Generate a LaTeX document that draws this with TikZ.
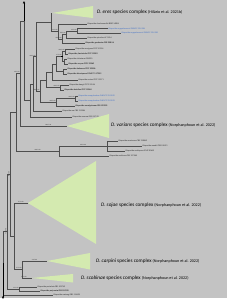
\documentclass[tikz,border=0pt]{standalone}
\usepackage{fontspec}
\setmainfont{Carlito}
\usepackage{tikz}
\usetikzlibrary{arrows.meta}
\definecolor{treebg}{RGB}{195,195,195}
\definecolor{cladegreen}{RGB}{212,234,176}
\definecolor{isoblue}{RGB}{62,110,200}
\definecolor{branchgray}{RGB}{78,78,78}
\newcommand{\citefont}{\fontsize{4.1}{4.8}\selectfont}

\begin{document}
\begin{tikzpicture}[x=1pt, y=-1pt, branch/.style={draw=branchgray, line width=0.35pt}, leaf/.style={anchor=west, inner sep=0.4pt, font=\fontsize{2.1}{2.5}\selectfont, text=black!85}, typeleaf/.style={leaf, font=\fontsize{2.1}{2.5}\selectfont\bfseries}, newleaf/.style={leaf, text=isoblue}, clade/.style={fill=cladegreen}, cladelabel/.style={anchor=west, inner sep=0pt, font=\fontsize{5.2}{6}\selectfont}, supp/.style={anchor=south east, inner sep=0.3pt, font=\fontsize{1.6}{1.9}\selectfont, text=black!80}, cut/.style={branch, draw=black, -{Triangle[width=2.4pt,length=2.2pt]}}]
\fill[white] (0,0) rectangle (227,300);
\fill[treebg] (0,0) rectangle (227,297.5);
\useasboundingbox (0,0) rectangle (227,300);

% collapsed complexes
\coordinate (eres) at (52,13);
\fill[clade] (eres) -- (93,6) -- (93,18) -- cycle;
\node[cladelabel] (eresl) at (97,12.5) {\textit{D. eres} species complex {\citefont (Hilário et al. 2021b)}};
\coordinate (varians) at (67,126);
\fill[clade] (varians) -- (109,114) -- (109,138) -- cycle;
\node[cladelabel] (variansl) at (111,125.5) {\textit{D. varians} species complex {\citefont (Norphanphoun et al. 2022)}};
\coordinate (sojae) at (28,203);
\fill[clade] (sojae) -- (96,161) -- (96,244) -- cycle;
\node[cladelabel] (sojael) at (101,205) {\textit{D. sojae} species complex {\citefont (Norphanphoun et al. 2022)}};
\coordinate (carpini) at (47,261);
\fill[clade] (carpini) -- (90,253) -- (90,269.5) -- cycle;
\node[cladelabel] (carpinil) at (96,261.5) {\textit{D. carpini} species complex {\citefont (Norphanphoun et al. 2022)}};
\coordinate (scobinae) at (32,278);
\fill[clade] (scobinae) -- (73,274) -- (73,282.5) -- cycle;
\node[cladelabel] (scobinael) at (81,278) {\textit{D. scobinae} species complex {\citefont (Norphanphoun et al. 2022)}};

% leaves
\node[leaf] (a1) at (87,24) {\textit{Diaporthe charlesworthii} BRIP 54884};
\node[newleaf] (a2) at (108,28.5) {\textit{Diaporthe angophorensis} ZHKUCC 22-0184};
\node[newleaf] (a3) at (121,33) {\textit{Diaporthe angophorensis} ZHKUCC 22-0185};
\node[leaf] (a4) at (87,38) {\textit{Diaporthe spiculosa} LC 2416};
\node[typeleaf] (a5) at (85,43) {\textit{Diaporthe gardeniae} CBS 288.56};
\node[leaf] (b1) at (75,49) {\textit{Diaporthe acerigena} CFCC 52554};
\node[typeleaf] (b2) at (68,54) {\textit{Diaporthe fraxinicola} CFCC 52582};
\node[leaf] (b3) at (67,59) {\textit{Diaporthe citriasiana} ZJUD30};
\node[typeleaf] (b4) at (68,64) {\textit{Diaporthe caryae} CFCC 52563};
\node[typeleaf] (b5) at (67,69) {\textit{Diaporthe kadsurae} CFCC 52586};
\node[typeleaf] (b6) at (67,74) {\textit{Diaporthe biconispora} CGMCC 3.17252};
\node[leaf] (b7) at (78,80) {\textit{Diaporthe conica} CFCC 52571};
\node[leaf] (b8) at (69,85) {\textit{Diaporthe alangii} CFCC 52556};
\node[typeleaf] (b9) at (64,90) {\textit{Diaporthe betulina} CFCC 52560};
\node[newleaf] (b10) at (78,96) {\textit{Diaporthe campylandrae} ZHKUCC 22-0182};
\node[newleaf] (b11) at (78,101) {\textit{Diaporthe campylandrae} ZHKUCC 22-0183};
\node[typeleaf] (b12) at (75,106) {\textit{Diaporthe eucalyptorum} CBS 132525};
\node[leaf] (b13) at (62,111) {\textit{Diaporthe oxe} CBS 133186};
\node[leaf] (b14) at (72,117) {\textit{Diaporthe nomurai} CBS 157.29};
\node[leaf] (h1) at (118,141) {\textit{Diaporthe acaciarum} CBS 138862};
\node[leaf] (h2) at (142,146) {\textit{Diaporthe woodii} CBS 558.93};
\node[leaf] (h3) at (125,151) {\textit{Diaporthe ovalispora} ICMP 20659};
\node[leaf] (h4) at (109,156) {\textit{Diaporthe caulivora} CBS 127268};
\node[leaf] (z1) at (37,287) {\textit{Diaporthe pustulata} CBS 109742};
\node[typeleaf] (z2) at (40,291) {\textit{Diaporthe perjuncta} CBS 109745};
\node[leaf] (z3) at (53,295) {\textit{Diaporthe crataegi} CBS 114435};

% internal nodes
\coordinate (n3) at (77,30.7);
\coordinate (n2) at (66,34.4);
\coordinate (n4) at (62,38.7);
\coordinate (n1) at (58,31.3);
\coordinate (n0) at (51,22.2);
\coordinate (c1) at (65,51.5);
\coordinate (c2) at (64.5,61.5);
\coordinate (c3) at (62,56.5);
\coordinate (c4) at (63,71.5);
\coordinate (c5) at (56,64);
\coordinate (c6) at (52,72);
\coordinate (c7) at (60,87.5);
\coordinate (c8) at (46,79.8);
\coordinate (d1) at (75,98.5);
\coordinate (d2) at (56,102.3);
\coordinate (d3) at (40,91);
\coordinate (n6) at (36,56.6);
\coordinate (d4) at (33,83.8);
\coordinate (d5) at (30,100.4);
\coordinate (t1) at (24,21);
\coordinate (t1top) at (24,1.2);
\coordinate (t0) at (20,73.5);
\coordinate (g1) at (107,146);
\coordinate (g2) at (59,151);
\coordinate (q1) at (16,112.3);
\coordinate (dd) at (22,269.5);
\coordinate (p) at (14,236.3);
\coordinate (q2) at (10,174.3);
\coordinate (zc) at (19,289);
\coordinate (a0) at (7,231.6);
\coordinate (r0) at (3,263.3);
\coordinate (rootend) at (3,298.8);

% branches
\draw[branch] (n3) |- (a2.west) (n3) |- (a3.west);
\draw[branch] (n2) |- (n3) (n2) |- (a4.west);
\draw[branch] (n4) |- (n2) (n4) |- (a5.west);
\draw[branch] (n1) |- (a1.west) (n1) |- (n4);
\draw[branch] (n0) |- (eres) (n0) |- (n1);
\draw[branch] (c1) |- (b1.west) (c1) |- (b2.west);
\draw[branch] (c2) |- (b3.west) (c2) |- (b4.west);
\draw[branch] (c3) |- (c1) (c3) |- (c2);
\draw[branch] (c4) |- (b5.west) (c4) |- (b6.west);
\draw[branch] (c5) |- (c3) (c5) |- (c4);
\draw[branch] (c6) |- (c5) (c6) |- (b7.west);
\draw[branch] (c7) |- (b8.west) (c7) |- (b9.west);
\draw[branch] (c8) |- (c6) (c8) |- (c7);
\draw[branch] (d1) |- (b10.west) (d1) |- (b11.west);
\draw[branch] (d2) |- (d1) (d2) |- (b12.west);
\draw[branch] (d3) |- (c8) (d3) |- (d2);
\draw[branch] (n6) |- (n0) (n6) |- (d3);
\draw[branch] (d4) |- (n6) (d4) |- (b13.west);
\draw[branch] (d5) |- (d4) (d5) |- (b14.west);
\draw[branch] (t1) |- (d5);
\draw[cut] (t1) -- (t1top);
\draw[branch] (t0) |- (t1) (t0) |- node[supp, pos=0.8, anchor=south] {100/1.00} (varians);
\draw[branch] (g1) |- (h1.west) (g1) |- (h2.west) (g1) |- (h3.west);
\draw[branch] (g2) |- node[supp, pos=0.75, anchor=south] {100/1.00} (g1) (g2) |- (h4.west);
\draw[branch] (q1) |- (t0) (q1) |- node[supp, pos=0.75, anchor=south] {100/1.00} (g2);
\draw[branch] (dd) |- node[supp, pos=0.75, anchor=south] {99/1.00} (carpini) (dd) |- node[supp, pos=0.6, anchor=south] {94/1.00} (scobinae);
\draw[branch] (p) |- node[supp, pos=0.75, anchor=south] {87/1.00} (sojae) (p) |- (dd);
\draw[branch] (q2) |- (q1) (q2) |- (p);
\draw[branch] (zc) |- (z1.west) (zc) |- (z2.west);
\draw[branch] (a0) |- (q2) (a0) |- (zc);
\draw[branch] (r0) |- (a0) (r0) |- (z3.west);
\draw[cut] (r0) -- (rootend);

% support values
\node[supp] (s1) at (n1) {99/1.00};
\node[supp] (s2) at (n3) {96/1.00};
\node[supp] (s3) at (n2) {88/0.99};
\node[supp] (s4) at (n4) {100/1.00};
\node[supp] (s5) at (c1) {100/1.00};
\node[supp] (s6) at (c3) {97/0.99};
\node[fill=black, inner sep=0pt, minimum size=1.8pt] (mk) at (c3) {};
\node[supp] (s7) at (c7) {100/1.00};
\node[supp] (s8) at (d1) {100/1.00};
\node[supp] (s9) at (d2) {100/1.00};
\node[supp] (s10) at (d3) {100/0.95};
\node[supp] (s11) at (n6) {100/1.00};
\node[supp] (s12) at (t0) {98/1.00};
\node[supp] (s13) at (dd) {97/1.00};
\node[supp] (s14) at (zc) {96/1.00};
\node[supp, rotate=90, anchor=south] (s15) at (q2) {96/1.00};
\node[supp, rotate=90, anchor=south] (s16) at (a0) {71/0.98};
\end{tikzpicture}
\end{document}
